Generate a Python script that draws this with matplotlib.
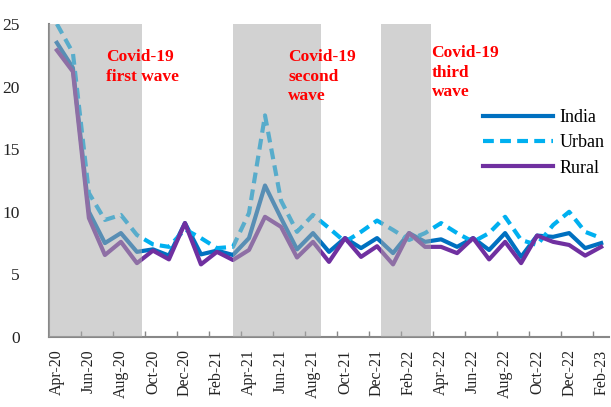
import matplotlib.pyplot as plt
import numpy as np

plt.rcParams['font.family'] = ['Liberation Serif', 'DejaVu Serif']

months = ['Apr-20', 'May-20', 'Jun-20', 'Jul-20', 'Aug-20', 'Sep-20', 'Oct-20', 'Nov-20',
          'Dec-20', 'Jan-21', 'Feb-21', 'Mar-21', 'Apr-21', 'May-21', 'Jun-21', 'Jul-21',
          'Aug-21', 'Sep-21', 'Oct-21', 'Nov-21', 'Dec-21', 'Jan-22', 'Feb-22', 'Mar-22',
          'Apr-22', 'May-22', 'Jun-22', 'Jul-22', 'Aug-22', 'Sep-22', 'Oct-22', 'Nov-22',
          'Dec-22', 'Jan-23', 'Feb-23']

india = [23.5, 21.5, 10.0, 7.5, 8.3, 6.8, 7.0, 6.5, 9.1, 6.6, 6.9, 6.55, 7.9, 12.1, 9.5,
         7.0, 8.3, 6.8, 7.9, 7.1, 7.9, 6.7, 8.3, 7.6, 7.8, 7.2, 7.9, 6.95, 8.3, 6.4, 8.1,
         8.0, 8.3, 7.1, 7.5]
urban = [25.0, 22.7, 11.5, 9.35, 9.75, 8.15, 7.4, 7.2, 8.6, 7.9, 7.1, 7.2, 9.9, 17.7, 10.9,
         8.4, 9.75, 8.7, 7.6, 8.4, 9.3, 8.55, 7.75, 8.3, 9.1, 8.3, 7.6, 8.3, 9.6, 7.75, 7.35,
         8.95, 10.0, 8.4, 7.9]
rural = [22.9, 21.2, 9.5, 6.55, 7.6, 5.9, 6.9, 6.2, 9.1, 5.8, 6.8, 6.15, 6.95, 9.6, 8.8,
         6.35, 7.6, 6.0, 7.9, 6.4, 7.25, 5.8, 8.3, 7.2, 7.2, 6.7, 7.9, 6.2, 7.6, 5.9, 8.1,
         7.6, 7.35, 6.5, 7.2]

# covid wave periods (start, end) in month positions
waves = [(-0.5, 5.3), (11.0, 16.5), (20.25, 23.4)]
wave_labels = ['Covid-19\nfirst wave', 'Covid-19\nsecond\nwave', 'Covid-19\nthird\nwave']

x = np.arange(len(months))

fig = plt.figure(figsize=(6.11, 4.07), dpi=100)
ax = fig.add_axes([0.080, 0.172, 0.917, 0.769])

ax.plot(x, india, color='#0070C0', lw=3, label='India', zorder=2)
ax.plot(x, urban, color='#00B0F0', lw=3, ls=(0, (2.6, 1.5)), label='Urban', zorder=2)
ax.plot(x, rural, color='#7030A0', lw=3, label='Rural', zorder=2)

# shaded bands sit over the lines, semi transparent
for s, e in waves:
    ax.axvspan(s, e, color='#aaaaaa', alpha=0.52, lw=0, zorder=3)

text_pos = [(3.06, 23.0), (14.44, 23.0), (23.4, 23.3)]
for (tx, ty), lab in zip(text_pos, wave_labels):
    ax.text(tx, ty, lab, color='red', fontsize=12.5, fontweight='bold',
            va='top', ha='left', linespacing=1.3, zorder=5)

ax.set_xlim(-0.5, len(months) - 0.5)
ax.set_ylim(0, 25)
ax.set_yticks([0, 5, 10, 15, 20, 25])
ax.tick_params(axis='y', length=0, pad=21, labelsize=12.5, colors='#222222')

ax.set_xticks(x[::2])
ax.set_xticklabels(months[::2], rotation=90, fontsize=11.5)
ax.set_xticks(np.arange(1.5, len(months) - 0.5, 2), minor=True)
ax.tick_params(axis='x', which='major', length=0, pad=9, colors='#222222')
ax.tick_params(axis='x', which='minor', direction='in', length=4, width=1, color='#888888')

for side in ['top', 'right']:
    ax.spines[side].set_visible(False)
for side in ['left', 'bottom']:
    ax.spines[side].set_color('#888888')
    ax.spines[side].set_linewidth(1.5)

leg = ax.legend(loc='center left', bbox_to_anchor=(0.745, 0.62), frameon=False,
                fontsize=13, handlelength=3.9, handletextpad=0.35, labelspacing=0.45)
leg.set_zorder(6)

fig.savefig('out.png', dpi=100)
